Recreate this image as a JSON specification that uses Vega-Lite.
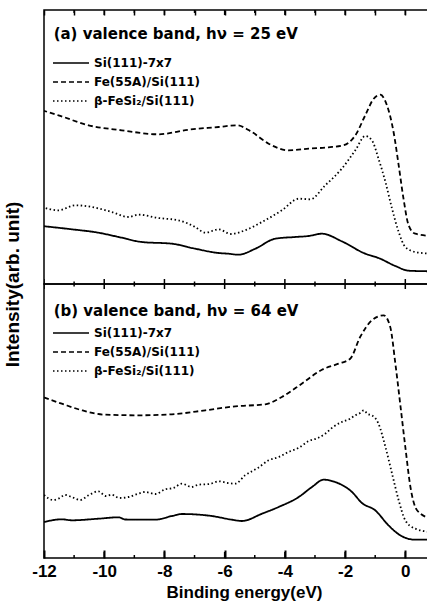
{
  "$schema": "https://vega.github.io/schema/vega-lite/v6.json",
  "padding": {"left": 2, "top": 8, "right": 0, "bottom": 2},
  "bounds": "flush",
  "spacing": 0,
  "config": {
    "view": {"stroke": "black", "strokeWidth": 1.5},
    "axis": {"grid": false, "domain": false, "labelFlush": false},
    "legend": {"orient": "none", "title": null, "labelFont": "DejaVu Sans", "labelFontWeight": "bold", "labelFontSize": 12, "labelColor": "black", "symbolType": "M-3.6,0H3.6", "symbolSize": 100, "symbolStrokeColor": "black", "symbolStrokeWidth": 1.5, "labelOffset": 17, "rowPadding": 7, "padding": 0}
  },
  "datasets": {
    "t": [
      {"e": -12, "k": "major"}, {"e": -11, "k": "minor"}, {"e": -10, "k": "major"}, {"e": -9, "k": "minor"}, {"e": -8, "k": "major"}, {"e": -7, "k": "minor"}, {"e": -6, "k": "major"}, {"e": -5, "k": "minor"}, {"e": -4, "k": "major"}, {"e": -3, "k": "minor"}, {"e": -2, "k": "major"}, {"e": -1, "k": "minor"}, {"e": 0, "k": "major"}
    ],
    "a": [
      {"e": -12.07, "i": 58, "s": "Si(111)-7x7"}, {"e": -11.08, "i": 54.7, "s": "Si(111)-7x7"}, {"e": -10.19, "i": 51.3, "s": "Si(111)-7x7"}, {"e": -9.52, "i": 47, "s": "Si(111)-7x7"}, {"e": -8.75, "i": 42, "s": "Si(111)-7x7"}, {"e": -7.75, "i": 40.3, "s": "Si(111)-7x7"}, {"e": -6.98, "i": 35.3, "s": "Si(111)-7x7"}, {"e": -6.2, "i": 31, "s": "Si(111)-7x7"}, {"e": -5.87, "i": 30.3, "s": "Si(111)-7x7"}, {"e": -5.54, "i": 29.3, "s": "Si(111)-7x7"}, {"e": -4.98, "i": 35.3, "s": "Si(111)-7x7"}, {"e": -4.32, "i": 45.3, "s": "Si(111)-7x7"}, {"e": -3.66, "i": 47, "s": "Si(111)-7x7"}, {"e": -3.21, "i": 48, "s": "Si(111)-7x7"}, {"e": -2.77, "i": 50.3, "s": "Si(111)-7x7"}, {"e": -2.11, "i": 42.7, "s": "Si(111)-7x7"}, {"e": -1.33, "i": 30.3, "s": "Si(111)-7x7"}, {"e": -0.89, "i": 26, "s": "Si(111)-7x7"}, {"e": -0.33, "i": 18, "s": "Si(111)-7x7"}, {"e": 0.11, "i": 13.3, "s": "Si(111)-7x7"}, {"e": 0.85, "i": 12.7, "s": "Si(111)-7x7"},
      {"e": -12.06, "i": 173.7, "s": "Fe(55A)/Si(111)"}, {"e": -11.52, "i": 168.7, "s": "Fe(55A)/Si(111)"}, {"e": -10.52, "i": 158.7, "s": "Fe(55A)/Si(111)"}, {"e": -9.42, "i": 153.7, "s": "Fe(55A)/Si(111)"}, {"e": -8.2, "i": 149.7, "s": "Fe(55A)/Si(111)"}, {"e": -7.2, "i": 154.3, "s": "Fe(55A)/Si(111)"}, {"e": -6.2, "i": 157, "s": "Fe(55A)/Si(111)"}, {"e": -5.6, "i": 158.7, "s": "Fe(55A)/Si(111)"}, {"e": -5.1, "i": 152, "s": "Fe(55A)/Si(111)"}, {"e": -4.54, "i": 140.3, "s": "Fe(55A)/Si(111)"}, {"e": -3.88, "i": 133.7, "s": "Fe(55A)/Si(111)"}, {"e": -3.21, "i": 135.3, "s": "Fe(55A)/Si(111)"}, {"e": -2.55, "i": 136.7, "s": "Fe(55A)/Si(111)"}, {"e": -2.05, "i": 138.7, "s": "Fe(55A)/Si(111)"}, {"e": -1.66, "i": 148.7, "s": "Fe(55A)/Si(111)"}, {"e": -1.33, "i": 168.7, "s": "Fe(55A)/Si(111)"}, {"e": -1.05, "i": 185.3, "s": "Fe(55A)/Si(111)"}, {"e": -0.83, "i": 189.3, "s": "Fe(55A)/Si(111)"}, {"e": -0.61, "i": 178.7, "s": "Fe(55A)/Si(111)"}, {"e": -0.39, "i": 152, "s": "Fe(55A)/Si(111)"}, {"e": -0.22, "i": 118.7, "s": "Fe(55A)/Si(111)"}, {"e": -0.06, "i": 85.3, "s": "Fe(55A)/Si(111)"}, {"e": 0.11, "i": 58.7, "s": "Fe(55A)/Si(111)"}, {"e": 0.33, "i": 50.3, "s": "Fe(55A)/Si(111)"}, {"e": 0.85, "i": 48, "s": "Fe(55A)/Si(111)"},
      {"e": -12.07, "i": 77, "s": "β-FeSi₂/Si(111)"}, {"e": -11.52, "i": 73.7, "s": "β-FeSi₂/Si(111)"}, {"e": -10.96, "i": 78.7, "s": "β-FeSi₂/Si(111)"}, {"e": -10.41, "i": 77, "s": "β-FeSi₂/Si(111)"}, {"e": -9.75, "i": 72, "s": "β-FeSi₂/Si(111)"}, {"e": -9.19, "i": 67, "s": "β-FeSi₂/Si(111)"}, {"e": -8.86, "i": 69.3, "s": "β-FeSi₂/Si(111)"}, {"e": -8.2, "i": 66, "s": "β-FeSi₂/Si(111)"}, {"e": -7.53, "i": 63.7, "s": "β-FeSi₂/Si(111)"}, {"e": -6.98, "i": 57, "s": "β-FeSi₂/Si(111)"}, {"e": -6.64, "i": 51.3, "s": "β-FeSi₂/Si(111)"}, {"e": -6.2, "i": 54.7, "s": "β-FeSi₂/Si(111)"}, {"e": -5.8, "i": 50, "s": "β-FeSi₂/Si(111)"}, {"e": -5.32, "i": 53.7, "s": "β-FeSi₂/Si(111)"}, {"e": -4.76, "i": 62, "s": "β-FeSi₂/Si(111)"}, {"e": -4.1, "i": 73.7, "s": "β-FeSi₂/Si(111)"}, {"e": -3.54, "i": 85.3, "s": "β-FeSi₂/Si(111)"}, {"e": -3.16, "i": 84.7, "s": "β-FeSi₂/Si(111)"}, {"e": -2.66, "i": 98.7, "s": "β-FeSi₂/Si(111)"}, {"e": -2.11, "i": 115.3, "s": "β-FeSi₂/Si(111)"}, {"e": -1.66, "i": 133.7, "s": "β-FeSi₂/Si(111)"}, {"e": -1.33, "i": 148, "s": "β-FeSi₂/Si(111)"}, {"e": -1.11, "i": 143.7, "s": "β-FeSi₂/Si(111)"}, {"e": -0.89, "i": 125.3, "s": "β-FeSi₂/Si(111)"}, {"e": -0.66, "i": 102, "s": "β-FeSi₂/Si(111)"}, {"e": -0.44, "i": 75.3, "s": "β-FeSi₂/Si(111)"}, {"e": -0.22, "i": 52, "s": "β-FeSi₂/Si(111)"}, {"e": 0.0, "i": 37, "s": "β-FeSi₂/Si(111)"}, {"e": 0.33, "i": 32, "s": "β-FeSi₂/Si(111)"}, {"e": 0.85, "i": 30.3, "s": "β-FeSi₂/Si(111)"}
    ],
    "b": [
      {"e": -12.0, "i": 36, "s": "Si(111)-7x7"}, {"e": -11.41, "i": 38.7, "s": "Si(111)-7x7"}, {"e": -11.08, "i": 37.7, "s": "Si(111)-7x7"}, {"e": -10.19, "i": 39.3, "s": "Si(111)-7x7"}, {"e": -9.52, "i": 40.7, "s": "Si(111)-7x7"}, {"e": -9.3, "i": 38.5, "s": "Si(111)-7x7"}, {"e": -8.31, "i": 38.3, "s": "Si(111)-7x7"}, {"e": -7.75, "i": 42, "s": "Si(111)-7x7"}, {"e": -7.42, "i": 44, "s": "Si(111)-7x7"}, {"e": -6.43, "i": 42, "s": "Si(111)-7x7"}, {"e": -5.76, "i": 38.3, "s": "Si(111)-7x7"}, {"e": -5.43, "i": 37, "s": "Si(111)-7x7"}, {"e": -4.76, "i": 44.3, "s": "Si(111)-7x7"}, {"e": -4.21, "i": 51, "s": "Si(111)-7x7"}, {"e": -3.54, "i": 61, "s": "Si(111)-7x7"}, {"e": -3.1, "i": 71, "s": "Si(111)-7x7"}, {"e": -2.71, "i": 78.3, "s": "Si(111)-7x7"}, {"e": -2.33, "i": 76, "s": "Si(111)-7x7"}, {"e": -1.77, "i": 66, "s": "Si(111)-7x7"}, {"e": -1.44, "i": 55, "s": "Si(111)-7x7"}, {"e": -1.0, "i": 47.7, "s": "Si(111)-7x7"}, {"e": -0.56, "i": 32.7, "s": "Si(111)-7x7"}, {"e": -0.11, "i": 21.7, "s": "Si(111)-7x7"}, {"e": 0.33, "i": 18.3, "s": "Si(111)-7x7"}, {"e": 0.85, "i": 18.3, "s": "Si(111)-7x7"},
      {"e": -12.0, "i": 160.5, "s": "Fe(55A)/Si(111)"}, {"e": -11.41, "i": 154.3, "s": "Fe(55A)/Si(111)"}, {"e": -10.74, "i": 147.7, "s": "Fe(55A)/Si(111)"}, {"e": -9.97, "i": 143.3, "s": "Fe(55A)/Si(111)"}, {"e": -8.86, "i": 142.7, "s": "Fe(55A)/Si(111)"}, {"e": -7.75, "i": 143.7, "s": "Fe(55A)/Si(111)"}, {"e": -6.64, "i": 147.7, "s": "Fe(55A)/Si(111)"}, {"e": -5.65, "i": 151.7, "s": "Fe(55A)/Si(111)"}, {"e": -4.65, "i": 153.7, "s": "Fe(55A)/Si(111)"}, {"e": -4.1, "i": 161, "s": "Fe(55A)/Si(111)"}, {"e": -3.44, "i": 174.3, "s": "Fe(55A)/Si(111)"}, {"e": -2.77, "i": 188.3, "s": "Fe(55A)/Si(111)"}, {"e": -2.22, "i": 194.3, "s": "Fe(55A)/Si(111)"}, {"e": -1.83, "i": 199.3, "s": "Fe(55A)/Si(111)"}, {"e": -1.5, "i": 221, "s": "Fe(55A)/Si(111)"}, {"e": -1.11, "i": 237.7, "s": "Fe(55A)/Si(111)"}, {"e": -0.72, "i": 242.7, "s": "Fe(55A)/Si(111)"}, {"e": -0.5, "i": 231, "s": "Fe(55A)/Si(111)"}, {"e": -0.33, "i": 194.3, "s": "Fe(55A)/Si(111)"}, {"e": -0.17, "i": 154.3, "s": "Fe(55A)/Si(111)"}, {"e": 0.0, "i": 111, "s": "Fe(55A)/Si(111)"}, {"e": 0.17, "i": 71, "s": "Fe(55A)/Si(111)"}, {"e": 0.39, "i": 47.7, "s": "Fe(55A)/Si(111)"}, {"e": 0.85, "i": 39.3, "s": "Fe(55A)/Si(111)"},
      {"e": -12.0, "i": 63, "s": "β-FeSi₂/Si(111)"}, {"e": -11.7, "i": 58, "s": "β-FeSi₂/Si(111)"}, {"e": -11.52, "i": 59.3, "s": "β-FeSi₂/Si(111)"}, {"e": -11.3, "i": 63, "s": "β-FeSi₂/Si(111)"}, {"e": -11.08, "i": 61, "s": "β-FeSi₂/Si(111)"}, {"e": -10.8, "i": 58, "s": "β-FeSi₂/Si(111)"}, {"e": -10.52, "i": 62.7, "s": "β-FeSi₂/Si(111)"}, {"e": -10.19, "i": 66.7, "s": "β-FeSi₂/Si(111)"}, {"e": -9.95, "i": 62, "s": "β-FeSi₂/Si(111)"}, {"e": -9.75, "i": 63.3, "s": "β-FeSi₂/Si(111)"}, {"e": -9.5, "i": 60, "s": "β-FeSi₂/Si(111)"}, {"e": -9.19, "i": 61, "s": "β-FeSi₂/Si(111)"}, {"e": -8.9, "i": 64, "s": "β-FeSi₂/Si(111)"}, {"e": -8.64, "i": 66, "s": "β-FeSi₂/Si(111)"}, {"e": -8.3, "i": 64, "s": "β-FeSi₂/Si(111)"}, {"e": -7.97, "i": 68.7, "s": "β-FeSi₂/Si(111)"}, {"e": -7.7, "i": 70, "s": "β-FeSi₂/Si(111)"}, {"e": -7.42, "i": 74.3, "s": "β-FeSi₂/Si(111)"}, {"e": -7.1, "i": 71, "s": "β-FeSi₂/Si(111)"}, {"e": -6.87, "i": 73.3, "s": "β-FeSi₂/Si(111)"}, {"e": -6.5, "i": 74, "s": "β-FeSi₂/Si(111)"}, {"e": -6.2, "i": 76.7, "s": "β-FeSi₂/Si(111)"}, {"e": -5.9, "i": 75, "s": "β-FeSi₂/Si(111)"}, {"e": -5.65, "i": 74.3, "s": "β-FeSi₂/Si(111)"}, {"e": -5.32, "i": 82.7, "s": "β-FeSi₂/Si(111)"}, {"e": -4.9, "i": 90, "s": "β-FeSi₂/Si(111)"}, {"e": -4.54, "i": 97.7, "s": "β-FeSi₂/Si(111)"}, {"e": -4.2, "i": 101, "s": "β-FeSi₂/Si(111)"}, {"e": -3.88, "i": 106, "s": "β-FeSi₂/Si(111)"}, {"e": -3.55, "i": 110, "s": "β-FeSi₂/Si(111)"}, {"e": -3.21, "i": 117, "s": "β-FeSi₂/Si(111)"}, {"e": -2.9, "i": 120, "s": "β-FeSi₂/Si(111)"}, {"e": -2.66, "i": 124.3, "s": "β-FeSi₂/Si(111)"}, {"e": -2.4, "i": 131, "s": "β-FeSi₂/Si(111)"}, {"e": -2.11, "i": 136, "s": "β-FeSi₂/Si(111)"}, {"e": -1.85, "i": 139, "s": "β-FeSi₂/Si(111)"}, {"e": -1.66, "i": 142.7, "s": "β-FeSi₂/Si(111)"}, {"e": -1.5, "i": 145, "s": "β-FeSi₂/Si(111)"}, {"e": -1.38, "i": 147.7, "s": "β-FeSi₂/Si(111)"}, {"e": -1.25, "i": 144, "s": "β-FeSi₂/Si(111)"}, {"e": -1.11, "i": 142.7, "s": "β-FeSi₂/Si(111)"}, {"e": -0.89, "i": 134.3, "s": "β-FeSi₂/Si(111)"}, {"e": -0.66, "i": 111, "s": "β-FeSi₂/Si(111)"}, {"e": -0.44, "i": 84.3, "s": "β-FeSi₂/Si(111)"}, {"e": -0.22, "i": 57.7, "s": "β-FeSi₂/Si(111)"}, {"e": 0.0, "i": 37.7, "s": "β-FeSi₂/Si(111)"}, {"e": 0.33, "i": 29.3, "s": "β-FeSi₂/Si(111)"}, {"e": 0.85, "i": 26, "s": "β-FeSi₂/Si(111)"}
    ]
  },
  "vconcat": [
    {
      "width": 386,
      "height": 274,
      "layer": [
        {
          "data": {"name": "a"},
          "mark": {"type": "line", "clip": true, "color": "black", "strokeWidth": 1.8, "interpolate": "monotone"},
          "encoding": {
            "x": {"field": "e", "type": "quantitative", "scale": {"domain": [-12, 0.82], "nice": false, "zero": false},
                  "axis": {"orient": "top", "tickCount": 13, "labels": false, "title": null,
                           "ticks": true, "tickColor": "black", "tickWidth": 1.5, "tickSize": -5}},
            "y": {"field": "i", "type": "quantitative", "scale": {"domain": [0, 274], "nice": false, "zero": false}, "axis": null},
            "strokeDash": {"field": "s", "type": "nominal",
                           "scale": {"domain": ["Si(111)-7x7", "Fe(55A)/Si(111)", "β-FeSi₂/Si(111)"], "range": [[1, 0], [5, 3], [1.5, 2.5]]},
                           "legend": {"legendX": 21, "legendY": 47}}
          }
        },
        {
          "data": {"name": "t"},
          "transform": [{"filter": "datum.k === 'major'"}],
          "mark": {"type": "tick", "orient": "vertical", "size": 10, "thickness": 1.5, "color": "black", "opacity": 1, "clip": true},
          "encoding": {"x": {"field": "e", "type": "quantitative"}, "y": {"datum": 274, "type": "quantitative"}}
        },
        {
          "data": {"name": "t"},
          "transform": [{"filter": "datum.k === 'minor'"}],
          "mark": {"type": "tick", "orient": "vertical", "size": 6, "thickness": 1.5, "color": "black", "opacity": 1, "clip": true},
          "encoding": {"x": {"field": "e", "type": "quantitative"}, "y": {"datum": 274, "type": "quantitative"}}
        },
        {
          "data": {"name": "t"},
          "transform": [{"filter": "datum.k === 'major'"}],
          "mark": {"type": "tick", "orient": "vertical", "size": 10, "thickness": 1.5, "color": "black", "opacity": 1, "clip": true},
          "encoding": {"x": {"field": "e", "type": "quantitative"}, "y": {"datum": 0, "type": "quantitative"}}
        },
        {
          "data": {"name": "t"},
          "transform": [{"filter": "datum.k === 'minor'"}],
          "mark": {"type": "tick", "orient": "vertical", "size": 5, "thickness": 1.5, "color": "black", "opacity": 1, "clip": true},
          "encoding": {"x": {"field": "e", "type": "quantitative"}, "y": {"datum": 0, "type": "quantitative"}}
        },
        {
          "data": {"values": [{}]},
          "mark": {"type": "text", "align": "left", "baseline": "middle", "font": "DejaVu Sans", "fontWeight": "bold", "fontSize": 15, "color": "black"},
          "encoding": {
            "x": {"datum": -11.68, "type": "quantitative"},
            "y": {"datum": 250, "type": "quantitative"},
            "text": {"value": "(a) valence band,  hν = 25 eV"}
          }
        }
      ]
    },
    {
      "width": 386,
      "height": 274,
      "layer": [
        {
          "data": {"name": "b"},
          "mark": {"type": "line", "clip": true, "color": "black", "strokeWidth": 1.8, "interpolate": "monotone"},
          "encoding": {
            "x": {"field": "e", "type": "quantitative", "scale": {"domain": [-12, 0.82], "nice": false, "zero": false},
                  "axis": {"orient": "bottom", "values": [-12, -11, -10, -9, -8, -7, -6, -5, -4, -3, -2, -1, 0], "labels": true,
                           "labelExpr": "datum.value % 2 === 0 ? '' + datum.value : ''",
                           "labelFont": "Liberation Sans", "labelFontWeight": "bold", "labelFontSize": 17, "labelColor": "black", "labelPadding": 13,
                           "title": "Binding energy(eV)", "titleFont": "Liberation Sans", "titleFontWeight": "bold", "titleFontSize": 17, "titleColor": "black", "titlePadding": 5, "titleX": 200,
                           "ticks": true, "tickColor": "black", "tickWidth": 2, "tickSize": -8}},
            "y": {"field": "i", "type": "quantitative", "scale": {"domain": [0, 274], "nice": false, "zero": false},
                  "axis": {"orient": "left", "ticks": false, "labels": false,
                           "title": "Intensity(arb. unit)", "titleAnchor": "end", "titleAlign": "center", "titleFont": "Liberation Sans", "titleFontWeight": "bold", "titleFontSize": 19, "titleColor": "black", "titlePadding": 22}},
            "strokeDash": {"field": "s", "type": "nominal",
                           "scale": {"domain": ["Si(111)-7x7", "Fe(55A)/Si(111)", "β-FeSi₂/Si(111)"], "range": [[1, 0], [5, 3], [1.5, 2.5]]},
                           "legend": {"legendX": 21, "legendY": 43}}
          }
        },
        {
          "data": {"name": "t"},
          "transform": [{"filter": "datum.k === 'major'"}],
          "mark": {"type": "tick", "orient": "vertical", "size": 10, "thickness": 1.5, "color": "black", "opacity": 1, "clip": true},
          "encoding": {"x": {"field": "e", "type": "quantitative"}, "y": {"datum": 274, "type": "quantitative"}}
        },
        {
          "data": {"name": "t"},
          "transform": [{"filter": "datum.k === 'minor'"}],
          "mark": {"type": "tick", "orient": "vertical", "size": 5, "thickness": 1.5, "color": "black", "opacity": 1, "clip": true},
          "encoding": {"x": {"field": "e", "type": "quantitative"}, "y": {"datum": 274, "type": "quantitative"}}
        },
        {
          "data": {"name": "t"},
          "transform": [{"filter": "datum.k === 'major'"}],
          "mark": {"type": "tick", "orient": "vertical", "size": 12, "thickness": 1.5, "color": "black", "opacity": 1, "clip": true},
          "encoding": {"x": {"field": "e", "type": "quantitative"}, "y": {"datum": 0, "type": "quantitative"}}
        },
        {
          "data": {"name": "t"},
          "transform": [{"filter": "datum.k === 'minor'"}],
          "mark": {"type": "tick", "orient": "vertical", "size": 6, "thickness": 1.5, "color": "black", "opacity": 1, "clip": true},
          "encoding": {"x": {"field": "e", "type": "quantitative"}, "y": {"datum": 0, "type": "quantitative"}}
        },
        {
          "data": {"values": [{}]},
          "mark": {"type": "text", "align": "left", "baseline": "middle", "font": "DejaVu Sans", "fontWeight": "bold", "fontSize": 15, "color": "black"},
          "encoding": {
            "x": {"datum": -11.68, "type": "quantitative"},
            "y": {"datum": 247, "type": "quantitative"},
            "text": {"value": "(b) valence band,  hν = 64 eV"}
          }
        }
      ]
    }
  ],
  "resolve": {"legend": {"strokeDash": "independent"}, "scale": {"y": "independent", "x": "independent", "strokeDash": "independent"}}
}
